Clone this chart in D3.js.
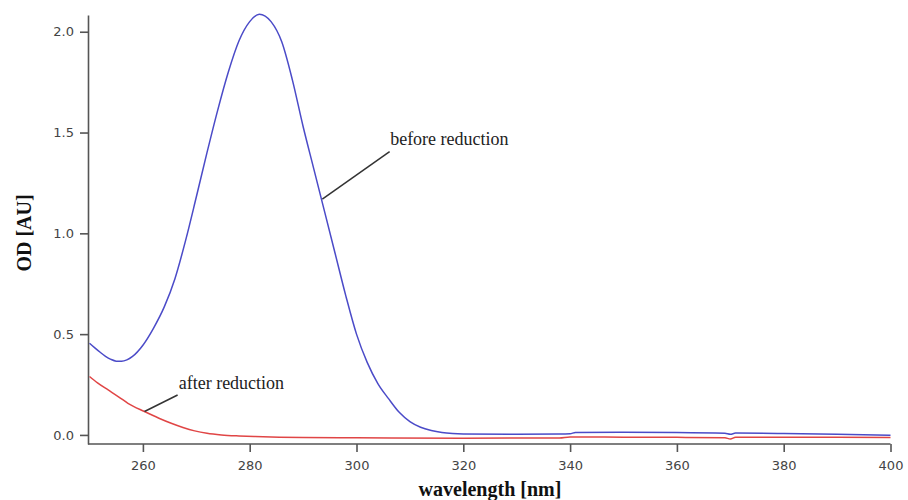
<!DOCTYPE html>
<html>
<head>
<meta charset="utf-8">
<script src="https://cdn.jsdelivr.net/npm/d3@7"></script>
<style>
  body { margin: 0; background: #fff; }
</style>
</head>
<body>
<script>
// spectra
var beforeWl = [250, 251, 252, 253, 254, 255, 256, 257, 258, 260, 262, 264, 266, 268, 270, 272, 274, 276, 278, 280, 281.8, 284, 286, 288, 290, 292, 294, 296, 298, 300, 302, 304, 306, 308, 310, 312, 314, 316, 318, 320, 330, 338, 340, 341, 350, 360, 369, 370, 371, 380, 390, 400];
var beforeOD = [0.455, 0.432, 0.41, 0.39, 0.375, 0.366, 0.365, 0.372, 0.388, 0.445, 0.53, 0.635, 0.775, 0.965, 1.18, 1.40, 1.61, 1.80, 1.955, 2.05, 2.087, 2.05, 1.95, 1.76, 1.53, 1.32, 1.11, 0.90, 0.69, 0.50, 0.36, 0.255, 0.18, 0.112, 0.066, 0.038, 0.022, 0.012, 0.007, 0.005, 0.003, 0.004, 0.006, 0.012, 0.013, 0.012, 0.008, 0.003, 0.009, 0.007, 0.003, -0.002];

var afterWl = [250, 251.5, 253.5, 255.5, 257.2, 260.3, 263, 265.3, 267.5, 269.7, 272, 274.7, 278, 281, 290, 300, 320, 338, 340, 350, 360, 369, 370, 371, 380, 390, 400];
var afterOD = [0.29, 0.258, 0.223, 0.188, 0.157, 0.116, 0.083, 0.058, 0.037, 0.02, 0.008, 0.0, -0.005, -0.008, -0.013, -0.014, -0.016, -0.015, -0.01, -0.011, -0.012, -0.014, -0.02, -0.011, -0.011, -0.012, -0.013];

var xTicks = [260, 280, 300, 320, 340, 360, 380, 400];
var yTicks = [0, 0.5, 1.0, 1.5, 2.0];

var width = 908, height = 500;

var svg = d3.select("body").append("svg")
    .attr("width", width)
    .attr("height", height);

var x = d3.scaleLinear().domain([250, 400]).range([89.5, 890.5]);
var y = d3.scaleLinear().domain([-0.045, 2.083]).range([444, 15]);

var axisColor = "#555";
var tickFont = "'DejaVu Sans', sans-serif";

var xAxis = d3.axisBottom(x).tickValues(xTicks).tickSize(8).tickPadding(9).tickSizeOuter(0)
    .tickFormat(d3.format("d"));
var yAxis = d3.axisLeft(y).tickValues(yTicks).tickSize(8).tickPadding(6).tickSizeOuter(0)
    .tickFormat(d3.format(".1f"));

var gx = svg.append("g")
    .attr("transform", "translate(0," + 444 + ")")
    .call(xAxis);
gx.select(".domain").attr("d", "M88,0H890.5");

var gy = svg.append("g")
    .attr("transform", "translate(" + 88 + ",0)")
    .call(yAxis);

[gx, gy].forEach(function(g) {
  g.selectAll(".domain, line").attr("stroke", axisColor).attr("stroke-width", 1.6);
  g.selectAll("text").attr("fill", "#444").style("font-family", tickFont).style("font-size", "13px");
});

var lineGen = d3.line()
    .x(function(d) { return x(d[0]); })
    .y(function(d) { return y(d[1]); })
    .curve(d3.curveMonotoneX);

svg.append("path")
   .datum(d3.zip(afterWl, afterOD))
   .attr("fill", "none")
   .attr("stroke", "#e04545")
   .attr("stroke-width", 1.5)
   .attr("d", lineGen);

svg.append("path")
   .datum(d3.zip(beforeWl, beforeOD))
   .attr("fill", "none")
   .attr("stroke", "#4b4bc8")
   .attr("stroke-width", 1.5)
   .attr("d", lineGen);

// annotations
var serif = "'Liberation Serif', 'Times New Roman', serif";

svg.append("line")
   .attr("x1", x(293.6)).attr("y1", y(1.17))
   .attr("x2", x(306.2)).attr("y2", y(1.405))
   .attr("stroke", "#333").attr("stroke-width", 1.5);
svg.append("text")
   .attr("x", x(306.3)).attr("y", y(1.438))
   .style("font-family", serif).style("font-size", "18px").attr("fill", "#222")
   .text("before reduction");

svg.append("line")
   .attr("x1", x(260.3)).attr("y1", y(0.116))
   .attr("x2", x(266.5)).attr("y2", y(0.198))
   .attr("stroke", "#333").attr("stroke-width", 1.5);
svg.append("text")
   .attr("x", x(266.7)).attr("y", y(0.227))
   .style("font-family", serif).style("font-size", "18px").attr("fill", "#222")
   .text("after reduction");

// axis titles
svg.append("text")
   .attr("x", 490).attr("y", 496)
   .attr("text-anchor", "middle")
   .style("font-family", serif).style("font-size", "20px").style("font-weight", "bold")
   .attr("fill", "#111")
   .text("wavelength [nm]");

svg.append("text")
   .attr("transform", "translate(31,233) rotate(-90)")
   .attr("text-anchor", "middle")
   .style("font-family", serif).style("font-size", "20px").style("font-weight", "bold")
   .attr("fill", "#111")
   .text("OD [AU]");
</script>
</body>
</html>
